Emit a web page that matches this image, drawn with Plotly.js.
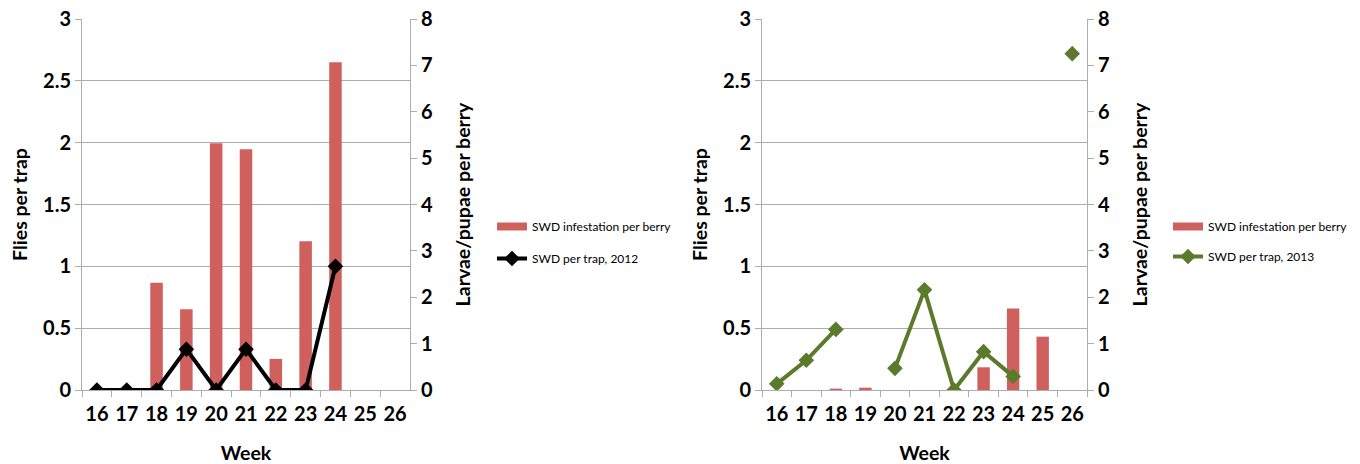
<!DOCTYPE html>
<html>
<head>
<meta charset="utf-8">
<script src="https://cdn.plot.ly/plotly-3.0.1.min.js"></script>
<style>html,body{margin:0;padding:0;background:#fff;}#chart{width:1360px;height:464px;}</style>
</head>
<body>
<div id="chart"></div>
<script>
const weeks = ["16","17","18","19","20","21","22","23","24","25","26"];
// 2012
const infest2012 = [null, null, 2.31, 1.74, 5.32, 5.19, 0.67, 3.21, 7.07, null, null];
const trap2012   = [0, 0, 0, 0.33, 0, 0.33, 0, 0, 1.0, null, null];
// 2013
const infest2013 = [null, null, 0.03, 0.05, null, null, null, 0.49, 1.76, 1.15, null];
const trap2013   = [0.05, 0.24, 0.49, null, 0.175, 0.81, 0, 0.31, 0.11, null, 2.72];

const barName = "SWD infestation per berry";
const line2012Name = "SWD per trap, 2012";
const line2013Name = "SWD per trap, 2013";

const barColor = "#d0605d";
const gridColor = "#adadad";
const FONT = "Lato, 'Open Sans', sans-serif";

const traces = [
  {type:"bar", x:weeks, y:infest2012, name:barName, xaxis:"x", yaxis:"y",
   marker:{color:barColor}, width:0.42, showlegend:false},
  {type:"scatter", mode:"lines+markers", x:weeks, y:trap2012, name:line2012Name,
   xaxis:"x", yaxis:"y2", line:{color:"#000000", width:4},
   marker:{symbol:"diamond", size:12, color:"#000000"}, connectgaps:false,
   legend:"legend", legendgroup:"b", legendrank:2},
  {type:"bar", x:weeks, y:infest2013, name:barName, xaxis:"x2", yaxis:"y3",
   marker:{color:barColor}, width:0.42, showlegend:false},
  {type:"scatter", mode:"lines+markers", x:weeks, y:trap2013, name:line2013Name,
   xaxis:"x2", yaxis:"y4", line:{color:"#5b7a2c", width:4},
   marker:{symbol:"diamond", size:12, color:"#5b7a2c"}, connectgaps:false,
   legend:"legend2", legendgroup:"d", legendrank:2},
  // legend swatches for the bar series (wide rectangle like the original)
  {type:"scatter", mode:"lines", x:[null], y:[null], name:barName, xaxis:"x", yaxis:"y",
   line:{color:barColor, width:8}, legend:"legend", legendgroup:"a", legendrank:1, hoverinfo:"skip"},
  {type:"scatter", mode:"lines", x:[null], y:[null], name:barName, xaxis:"x2", yaxis:"y3",
   line:{color:barColor, width:8}, legend:"legend2", legendgroup:"c", legendrank:1, hoverinfo:"skip"}
];

const W = 1360, H = 464;
const yDom = [1 - 390/H, 1 - 19/H];
const tickFont = {family:FONT, size:20, color:"#000", weight:"bold"};
const titleFont = {family:FONT, size:19.5, color:"#000", weight:"bold"};

function xAxis(dom, anchor){
  return {domain:dom, anchor:anchor, type:"category", categoryorder:"array",
    categoryarray:weeks, range:[-0.5, 10.5], tickson:"boundaries", ticks:"outside",
    ticklen:6, tickcolor:gridColor, showline:true, linecolor:gridColor, linewidth:1,
    showgrid:false, zeroline:false, tickfont:tickFont, tickangle:0, ticklabelstandoff:6,
    title:{text:"Week", font:titleFont, standoff:22}};
}
function rightAxis(anchor){
  return {domain:yDom, anchor:anchor, side:"right", range:[0,8], dtick:1, tick0:0,
    ticks:"outside", ticklen:6, tickcolor:gridColor, showline:true, linecolor:gridColor,
    showgrid:false, zeroline:false, tickfont:tickFont,
    title:{text:"Larvae/pupae per berry", font:titleFont, standoff:24}};
}
function leftAxis(over, anchor){
  return {overlaying:over, anchor:anchor, side:"left", range:[0,3], dtick:0.5, tick0:0,
    ticks:"outside", ticklen:6, tickcolor:gridColor, showline:true, linecolor:gridColor,
    showgrid:true, gridcolor:gridColor, gridwidth:1, zeroline:false, tickfont:tickFont,
    title:{text:"Flies per trap", font:titleFont, standoff:10}};
}

const layout = {
  width:W, height:H, margin:{l:0, r:0, t:0, b:0},
  paper_bgcolor:"#fff", plot_bgcolor:"rgba(0,0,0,0)",
  showlegend:true, barmode:"group",
  xaxis: xAxis([82/W, 410/W], "y"),
  yaxis: rightAxis("x"),
  yaxis2: leftAxis("y", "x"),
  xaxis2: xAxis([762/W, 1087/W], "y3"),
  yaxis3: rightAxis("x2"),
  yaxis4: leftAxis("y3", "x2"),
  legend:{x:492/W, y:1 - 212/H, xanchor:"left", yanchor:"top", itemwidth:30,
    font:{family:FONT, size:12, color:"#000"}, tracegroupgap:13, bgcolor:"rgba(0,0,0,0)"},
  legend2:{x:1168/W, y:1 - 212/H, xanchor:"left", yanchor:"top", itemwidth:30,
    font:{family:FONT, size:12, color:"#000"}, tracegroupgap:11, bgcolor:"rgba(0,0,0,0)"}
};

Plotly.newPlot("chart", traces, layout, {displayModeBar:false, staticPlot:true});
</script>
</body>
</html>
